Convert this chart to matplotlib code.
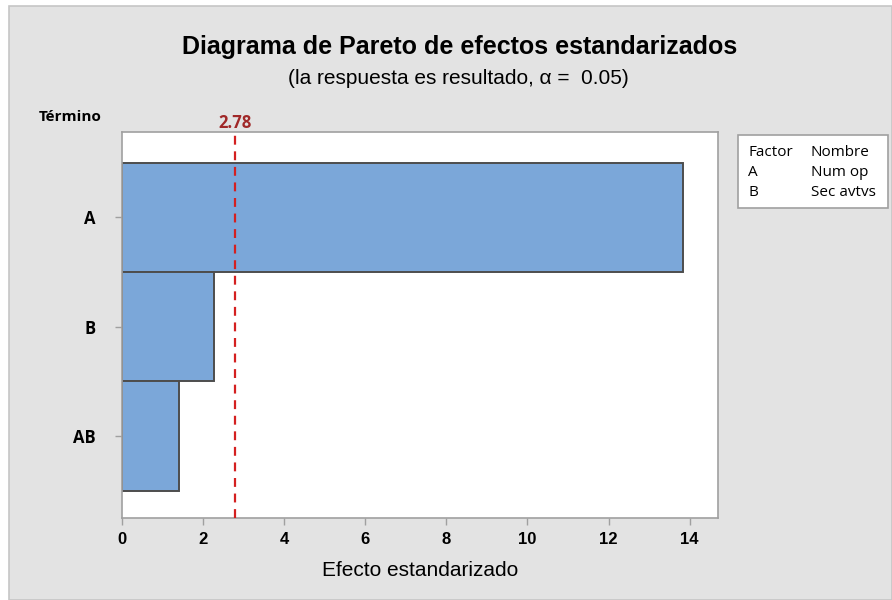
import matplotlib.pyplot as plt
from matplotlib.patches import Rectangle

# standardized effects (Pareto order, largest on top)
terms = ["A", "B", "AB"]
effects = [13.83, 2.26, 1.41]
critical = 2.78

factor_codes = ["A", "B"]
factor_names = ["Num op", "Sec avtvs"]

plt.rcParams['font.family'] = ['Liberation Sans', 'DejaVu Sans']

fig = plt.figure(figsize=(8.92, 6.0), dpi=100, facecolor='white')

# gray graph region with thin border
fig.patches.append(Rectangle((9/892, 0), 1 - 9/892, 1 - 6/600, transform=fig.transFigure,
                             facecolor='#e3e3e3', edgecolor='#c6c6c6', linewidth=1.2, zorder=-5))

ax = fig.add_axes([122/892, 1 - 518/600, (718 - 122)/892, (518 - 132)/600])
ax.set_facecolor('white')

ypos = list(range(len(terms)))
ax.barh(ypos, effects, height=1.0, color='#7ba7d9', edgecolor='#4d4d4d', linewidth=1.4, zorder=2)
ax.axvline(critical, color='#d42020', linestyle=(0, (4, 3)), linewidth=1.6, zorder=3)

ax.set_xlim(0, 14.7)
ax.set_ylim(2.75, -0.78)
ax.set_xticks(range(0, 15, 2))
ax.set_yticks(ypos)
ax.set_yticklabels(terms, fontsize=12, fontweight='bold', family=['Open Sans', 'DejaVu Sans'])
ax.tick_params(axis='x', labelsize=12, length=5, color='#a0a0a0', width=1, pad=5)
ax.tick_params(axis='y', length=5, color='#a0a0a0', width=1, pad=14)
for lab in ax.get_xticklabels():
    lab.set_fontweight('bold')
for s in ax.spines.values():
    s.set_color('#a0a0a0')
    s.set_linewidth(1.2)

ax.set_xlabel("Efecto estandarizado", fontsize=15, labelpad=10)
ax.text(critical, -0.82, f"{critical:.2f}", color='#a02828', fontsize=12, fontweight='bold',
        ha='center', va='baseline', family=['Open Sans', 'DejaVu Sans'])

fig.text(70/892, 1 - 117/600, "Término", fontsize=11, fontweight='bold', ha='center', va='center',
         family=['Open Sans', 'DejaVu Sans'])

fig.text(460/892, 1 - 47/600, "Diagrama de Pareto de efectos estandarizados",
         fontsize=18, fontweight='bold', ha='center', va='center')
fig.text(458/892, 1 - 79/600, "(la respuesta es resultado, α =  0.05)",
         fontsize=15, ha='center', va='center')

# factor legend box
fig.patches.append(Rectangle((738/892, 1 - 208/600), 150/892, 73/600, transform=fig.transFigure,
                             facecolor='white', edgecolor='#a0a0a0', linewidth=1.2, zorder=1))
rows = [("Factor", "Nombre")] + list(zip(factor_codes, factor_names))
for i, (c, n) in enumerate(rows):
    y = 1 - (153 + i * 19.5) / 600
    fig.text(748/892, y, c, fontsize=11, va='center', family=['Open Sans', 'DejaVu Sans'], zorder=2)
    fig.text(811/892, y, n, fontsize=11, va='center', family=['Open Sans', 'DejaVu Sans'], zorder=2)

fig.savefig("out.png", dpi=100, facecolor=fig.get_facecolor())
